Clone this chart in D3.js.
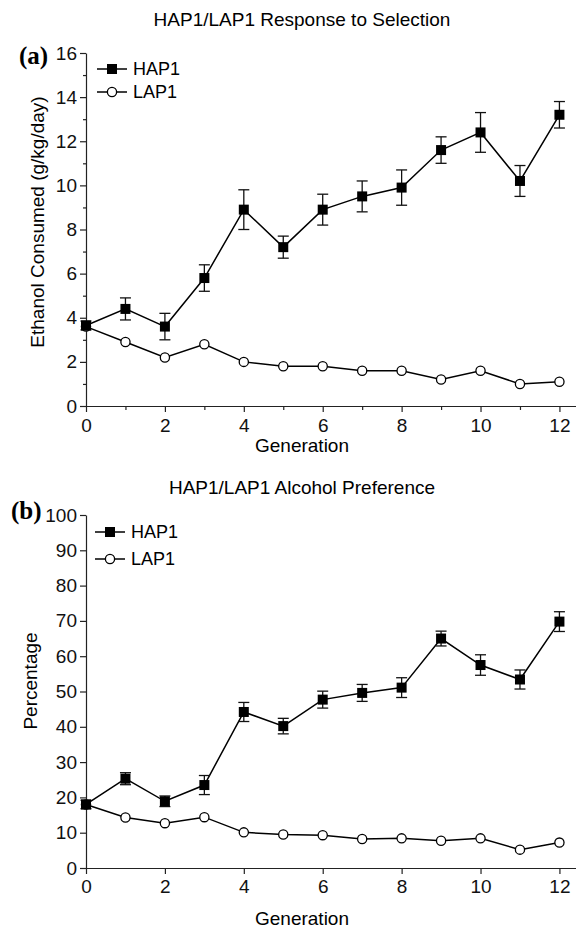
<!DOCTYPE html>
<html>
<head>
<meta charset="utf-8">
<script src="https://d3js.org/d3.v7.min.js"></script>
<style>
  body { margin: 0; background: #fff; }
  svg { display: block; font-family: "Liberation Sans", Arial, sans-serif; }
  .axis path, .axis line { stroke: #222; stroke-width: 1.2; }
  .axis text { fill: #111; font-size: 19px; font-family: "Liberation Sans", Arial, sans-serif; }
</style>
</head>
<body>
<script>
// data
var generations = [0, 1, 2, 3, 4, 5, 6, 7, 8, 9, 10, 11, 12];
var consumedHAP1 = [3.65, 4.4, 3.6, 5.8, 8.9, 7.2, 8.9, 9.5, 9.9, 11.6, 12.4, 10.2, 13.2];
var consumedHAP1Err = [0.2, 0.5, 0.6, 0.6, 0.9, 0.5, 0.7, 0.7, 0.8, 0.6, 0.9, 0.7, 0.6];
var consumedLAP1 = [3.6, 2.9, 2.2, 2.8, 2.0, 1.8, 1.8, 1.6, 1.6, 1.2, 1.6, 1.0, 1.1];
var prefHAP1 = [18.0, 25.3, 18.9, 23.5, 44.2, 40.2, 47.7, 49.6, 51.1, 65.0, 57.5, 53.4, 69.8];
var prefHAP1Err = [1.2, 1.7, 1.5, 2.7, 2.7, 2.2, 2.4, 2.4, 2.8, 2.1, 2.9, 2.7, 2.8];
var prefLAP1 = [18.0, 14.3, 12.7, 14.4, 10.1, 9.5, 9.3, 8.2, 8.4, 7.7, 8.4, 5.2, 7.2];
var xTicks = [0, 2, 4, 6, 8, 10, 12];
var consumedTicks = [0, 2, 4, 6, 8, 10, 12, 14, 16];
var prefTicks = [0, 10, 20, 30, 40, 50, 60, 70, 80, 90, 100];
var seriesNames = ["HAP1", "LAP1"];

var W = 576, H = 930;
var svg = d3.select("body").append("svg")
	.attr("width", W)
	.attr("height", H);

// shared x scale, axis line runs to the right edge
var x = d3.scaleLinear().domain([0, 12.42]).range([86, 576]);

function panel(p) {
	var y = d3.scaleLinear().domain([0, p.yMax]).range([p.y0, p.y1]);
	var g = svg.append("g");

	// title
	g.append("text")
		.attr("x", 302)
		.attr("y", p.titleY)
		.attr("text-anchor", "middle")
		.style("font-size", "19px")
		.text(p.title);

	// panel letter
	g.append("text")
		.attr("x", p.letterX)
		.attr("y", p.letterY)
		.style("font-family", "'Liberation Serif', 'Times New Roman', serif")
		.style("font-weight", "bold")
		.style("font-size", "25px")
		.text(p.letter);

	// minor ticks
	if (p.minorY) {
		g.append("g").attr("class", "axis")
			.attr("transform", "translate(86,0)")
			.call(d3.axisLeft(y).tickValues(p.minorY).tickSize(3).tickFormat(""))
			.select(".domain").remove();
	}
	if (p.minorX) {
		g.append("g").attr("class", "axis")
			.attr("transform", "translate(0," + p.y0 + ")")
			.call(d3.axisBottom(x).tickValues(p.minorX).tickSize(4).tickFormat(""))
			.select(".domain").remove();
	}

	// main axes
	g.append("g").attr("class", "axis")
		.attr("transform", "translate(86,0)")
		.call(d3.axisLeft(y).tickValues(p.yTicks).tickSize(6).tickSizeOuter(0).tickPadding(3));

	g.append("g").attr("class", "axis")
		.attr("transform", "translate(0," + p.y0 + ")")
		.call(d3.axisBottom(x).tickValues(xTicks).tickSize(6).tickSizeOuter(0).tickPadding(p.xPad));

	// axis titles
	g.append("text")
		.attr("x", 302)
		.attr("y", p.xLabelY)
		.attr("text-anchor", "middle")
		.style("font-size", "19px")
		.text("Generation");

	g.append("text")
		.attr("transform", "translate(" + p.yLabelX + "," + p.yLabelMid + ") rotate(-90)")
		.attr("text-anchor", "middle")
		.style("font-size", "19px")
		.text(p.yLabel);

	var line = d3.line()
		.x(function (d, i) {return x(generations[i]);})
		.y(function (d) {return y(d);});

	// LAP1 line
	g.append("path")
		.datum(p.low)
		.attr("d", line)
		.attr("fill", "none")
		.attr("stroke", "#000")
		.attr("stroke-width", 1.5);

	// HAP1 line
	g.append("path")
		.datum(p.high)
		.attr("d", line)
		.attr("fill", "none")
		.attr("stroke", "#000")
		.attr("stroke-width", 1.5);

	g.selectAll(".lowpt")
		.data(p.low)
		.enter()
		.append("circle")
		.attr("class", "lowpt")
		.attr("cx", function (d, i) {return x(generations[i]);})
		.attr("cy", function (d) {return y(d);})
		.attr("r", 4.6)
		.attr("fill", "#fff")
		.attr("stroke", "#000")
		.attr("stroke-width", 1.3);

	// error bars
	var eb = g.selectAll(".err")
		.data(p.high)
		.enter()
		.append("g")
		.attr("class", "err")
		.attr("stroke", "#111")
		.attr("stroke-width", 1.3);
	eb.append("line")
		.attr("x1", function (d, i) {return x(generations[i]);})
		.attr("x2", function (d, i) {return x(generations[i]);})
		.attr("y1", function (d, i) {return y(d + p.err[i]);})
		.attr("y2", function (d, i) {return y(d - p.err[i]);});
	eb.append("line")
		.attr("x1", function (d, i) {return x(generations[i]) - 5.5;})
		.attr("x2", function (d, i) {return x(generations[i]) + 5.5;})
		.attr("y1", function (d, i) {return y(d + p.err[i]);})
		.attr("y2", function (d, i) {return y(d + p.err[i]);});
	eb.append("line")
		.attr("x1", function (d, i) {return x(generations[i]) - 5.5;})
		.attr("x2", function (d, i) {return x(generations[i]) + 5.5;})
		.attr("y1", function (d, i) {return y(d - p.err[i]);})
		.attr("y2", function (d, i) {return y(d - p.err[i]);});

	g.selectAll(".highpt")
		.data(p.high)
		.enter()
		.append("rect")
		.attr("class", "highpt")
		.attr("x", function (d, i) {return x(generations[i]) - 5;})
		.attr("y", function (d) {return y(d) - 5;})
		.attr("width", 10)
		.attr("height", 10)
		.attr("fill", "#000");

	// legend
	var lg = g.append("g");
	seriesNames.forEach(function (name, k) {
		var ly = p.legY[k];
		lg.append("line")
			.attr("x1", p.legX).attr("x2", p.legX + 30)
			.attr("y1", ly).attr("y2", ly)
			.attr("stroke", "#000").attr("stroke-width", 1.5);
		if (k === 0) {
			lg.append("rect")
				.attr("x", p.legX + 15 - 5).attr("y", ly - 5)
				.attr("width", 10).attr("height", 10)
				.attr("fill", "#000");
		} else {
			lg.append("circle")
				.attr("cx", p.legX + 15).attr("cy", ly).attr("r", 4.6)
				.attr("fill", "#fff").attr("stroke", "#000").attr("stroke-width", 1.3);
		}
		lg.append("text")
			.attr("x", p.legX + 36)
			.attr("y", ly)
			.attr("dy", "0.36em")
			.style("font-size", "18px")
			.text(name);
	});
}

panel({
	title: "HAP1/LAP1 Response to Selection", titleY: 26,
	letter: "(a)", letterX: 19, letterY: 64,
	yMax: 16, y0: 406, y1: 53,
	yTicks: consumedTicks, minorY: [1, 3, 5, 7, 9, 11, 13, 15], minorX: [1, 3, 5, 7, 9, 11],
	xPad: 7, xLabelY: 452,
	yLabel: "Ethanol Consumed (g/kg/day)", yLabelX: 44, yLabelMid: 222,
	high: consumedHAP1, err: consumedHAP1Err, low: consumedLAP1,
	legX: 97, legY: [69, 92]
});

panel({
	title: "HAP1/LAP1 Alcohol Preference", titleY: 494,
	letter: "(b)", letterX: 11, letterY: 519,
	yMax: 100, y0: 868, y1: 515,
	yTicks: prefTicks, minorY: null, minorX: null,
	xPad: 6, xLabelY: 925,
	yLabel: "Percentage", yLabelX: 37, yLabelMid: 681,
	high: prefHAP1, err: prefHAP1Err, low: prefLAP1,
	legX: 95, legY: [532, 559]
});
</script>
</body>
</html>
